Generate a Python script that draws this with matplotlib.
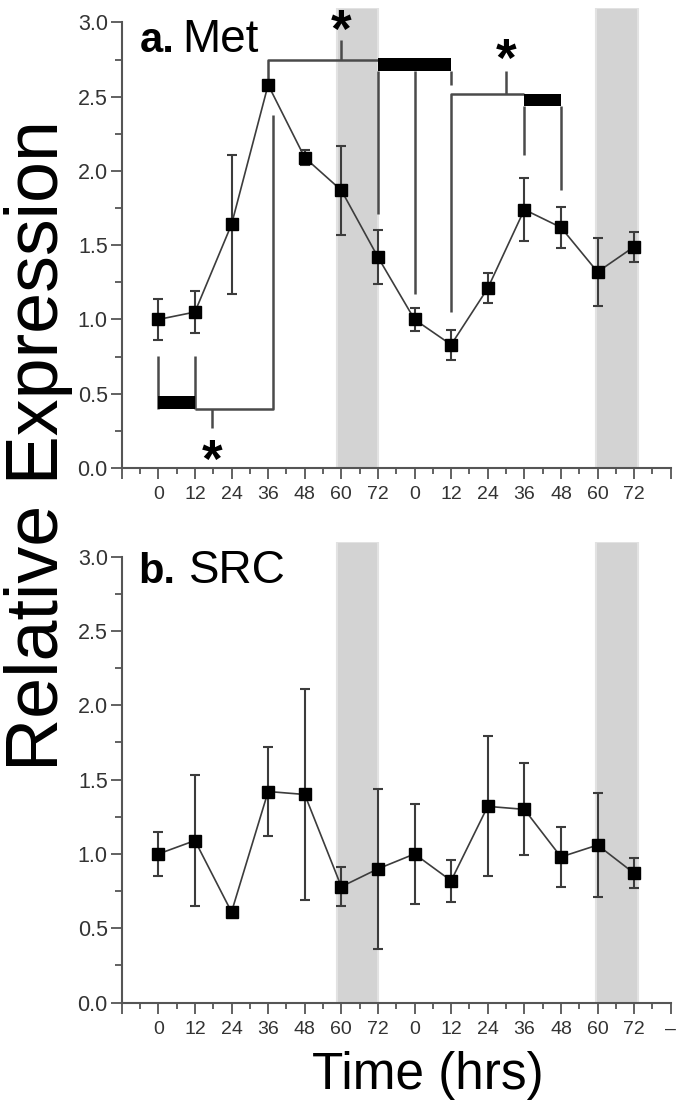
import matplotlib
matplotlib.use('Agg')
import matplotlib.pyplot as plt
from matplotlib.ticker import MultipleLocator, FixedLocator, FixedFormatter
import numpy as np

plt.rcParams['font.family'] = ['Liberation Sans', 'DejaVu Sans']

# 两个连续 0-72 h 周期，共 14 个时间点（横轴按小时累计）
hours = np.arange(14) * 12
tick_labels = ['0', '12', '24', '36', '48', '60', '72',
               '0', '12', '24', '36', '48', '60', '72']

met_mean = [1.00, 1.05, 1.64, 2.58, 2.09, 1.87, 1.42,
            1.00, 0.83, 1.21, 1.74, 1.62, 1.32, 1.49]
met_err = [0.14, 0.14, 0.47, 0.00, 0.05, 0.30, 0.18,
           0.075, 0.10, 0.10, 0.21, 0.14, 0.23, 0.10]

src_mean = [1.00, 1.09, 0.61, 1.42, 1.40, 0.78, 0.90,
            1.00, 0.82, 1.32, 1.30, 0.98, 1.06, 0.87]
src_err = [0.15, 0.44, 0.00, 0.30, 0.71, 0.13, 0.54,
           0.335, 0.14, 0.47, 0.31, 0.20, 0.35, 0.10]

# 灰色时段（小时）
shade_spans = [(58.7, 72.0), (143.4, 157.2)]

# 显著性标注（小时, 数值）
sig_black = [(0, 12, 0.40, 0.485), (72, 96, 2.67, 2.76), (120, 132, 2.44, 2.52)]
sig_lines = [
    # 左下括号
    ([0, 0], [0.755, 0.40]), ([12, 12], [0.755, 0.40]),
    ([12, 37.5, 37.5], [0.40, 0.40, 2.38]), ([17.5, 17.5], [0.40, 0.27]),
    # 顶部括号
    ([36, 36, 72], [2.62, 2.75, 2.75]), ([60, 60], [2.75, 2.88]),
    ([72, 72], [2.67, 1.71]), ([84, 84], [2.67, 1.17]), ([96, 96], [2.67, 2.58]),
    # 右侧括号
    ([96, 96, 120], [1.05, 2.52, 2.52]), ([114, 114], [2.52, 2.67]),
    ([120, 120], [2.44, 2.11]), ([132, 132], [2.44, 1.87]),
]
# 星号顶端位置
sig_stars = [(17.5, 0.20), (60, 3.10), (114, 2.90)]

GRAY = '#3c3c3c'

fig = plt.figure(figsize=(6.85, 11.05), dpi=100)
ax1 = fig.add_axes([0.1777, 0.5765, 0.8015, 0.4166])
ax2 = fig.add_axes([0.1777, 0.0926, 0.8015, 0.4172])


def style_axis(ax, last_label):
    for a, b in shade_spans:
        ax.axvspan(a, b, color='#d3d3d3', ec='#e2e2e2', lw=1.5, zorder=0)
    ax.set_xlim(-12, 168)
    ax.set_ylim(0, 3.1)
    for s in ['top', 'right']:
        ax.spines[s].set_visible(False)
    for s in ['left', 'bottom']:
        ax.spines[s].set_color('#555555')
        ax.spines[s].set_linewidth(1.5)
    ax.spines['left'].set_bounds(0, 3.0)
    ax.set_yticks(np.arange(0, 3.01, 0.5))
    ax.set_yticklabels([f'{v:.1f}' for v in np.arange(0, 3.01, 0.5)])
    ax.yaxis.set_minor_locator(MultipleLocator(0.25))
    xt = list(np.arange(-12, 169, 12))
    ax.xaxis.set_major_locator(FixedLocator(xt))
    ax.xaxis.set_major_formatter(FixedFormatter([''] + tick_labels + [last_label]))
    ax.xaxis.set_minor_locator(MultipleLocator(6))
    ax.tick_params(which='both', colors='#555555', labelcolor='#333333', width=1.3)
    ax.tick_params(axis='y', which='major', length=8, pad=2, labelsize=15.5)
    ax.tick_params(axis='y', which='minor', length=5)
    ax.tick_params(axis='x', which='major', length=8, pad=5, labelsize=14)
    ax.tick_params(axis='x', which='minor', length=4)


def draw_series(ax, mean, err):
    ax.errorbar(hours, mean, yerr=err, fmt='s-', color=GRAY, lw=1.2,
                mfc='black', mec='black', ms=8, ecolor=GRAY, elinewidth=1.5,
                capsize=3.5, capthick=1.5, zorder=3)


style_axis(ax1, '')
style_axis(ax2, '–')
draw_series(ax1, met_mean, met_err)
draw_series(ax2, src_mean, src_err)

for xs, ys in sig_lines:
    ax1.plot(xs, ys, color='#4a4a4a', lw=1.8, zorder=2, solid_capstyle='butt')
for x0, x1, y0, y1 in sig_black:
    ax1.fill_between([x0, x1], y0, y1, color='black', lw=0, zorder=2)
for sx, sy in sig_stars:
    ax1.text(sx, sy, '*', fontsize=38, fontweight='bold', ha='center',
             va='top', zorder=4)

ax1.text(0.033, 0.9035, 'a.', transform=ax1.transAxes, fontsize=30,
         fontweight='bold', va='baseline')
ax1.text(0.110, 0.9035, 'Met', transform=ax1.transAxes, fontsize=33, va='baseline')
ax2.text(0.030, 0.910, 'b.', transform=ax2.transAxes, fontsize=30,
         fontweight='bold', va='baseline')
ax2.text(0.122, 0.910, 'SRC', transform=ax2.transAxes, fontsize=33, va='baseline')

fig.text(0.056, 1 - 446 / 1105, 'Relative Expression', rotation=90,
         fontsize=53, ha='center', va='center')
fig.text(428 / 685, 1 - 1075 / 1105, 'Time (hrs)', fontsize=37,
         ha='center', va='center')

fig.savefig('out.png', dpi=100)
